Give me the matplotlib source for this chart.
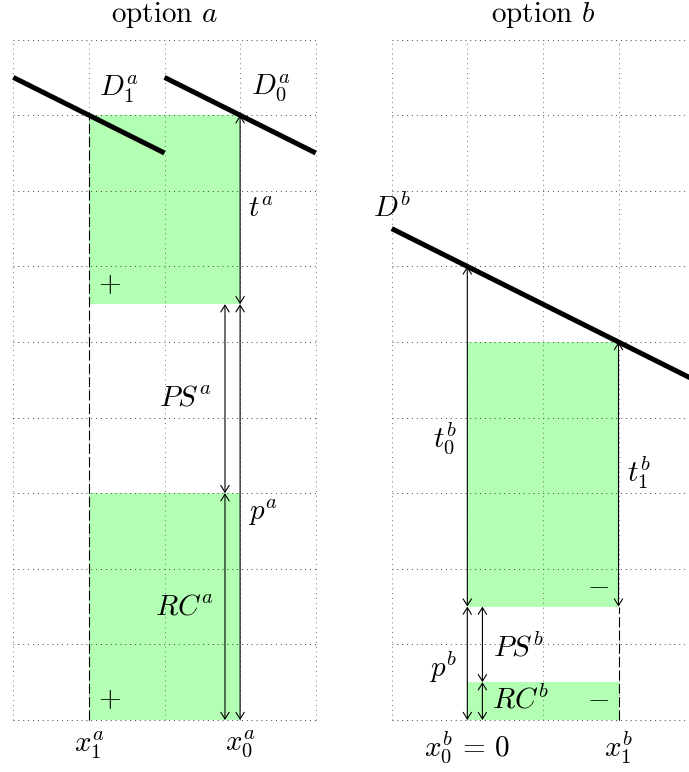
import matplotlib
matplotlib.use("Agg")
import matplotlib.pyplot as plt
from matplotlib.patches import Rectangle

plt.rcParams['mathtext.fontset'] = 'cm'
plt.rcParams['font.family'] = 'serif'
plt.rcParams['font.serif'] = ['cmr10']
plt.rcParams['axes.unicode_minus'] = False

W, H = 689, 772
S = 75.6          # pixels per grid unit
Y0_PX = 720       # pixel row of y = 0

# demand curves (x list, y list)
demand_a = [([0, 2], [8.5, 7.5]), ([2, 4], [8.5, 7.5])]
demand_b = [([0, 4], [6.5, 4.5])]

# green areas (x0, y0, x1, y1)
rects_a = [(1, 5.5, 3, 8), (1, 0, 3, 3)]
rects_b = [(1, 1.5, 3, 5), (1, 0, 3, 0.5)]

# double arrows (x, y_start, y_end)
arrows_a = [(3, 8, 5.5), (3, 5.5, 0), (2.8, 5.5, 3), (2.8, 3, 0)]
arrows_b = [(1, 6, 1.5), (1, 1.5, 0), (3, 5, 1.5), (1.2, 1.5, 0.5), (1.2, 0.5, 0)]

# dashed guides (x, y_start, y_end)
dashed_a = [(1, 0, 8)]
dashed_b = [(3, 0, 1.5)]

labels_a = [
    ('option $a$', 2, 9.33),
    ('$D_1^a$', 1.4, 8.35),
    ('$D_0^a$', 3.4, 8.35),
    ('$t^a$', 3.28, 6.75),
    ('$PS^a$', 2.28, 4.26),
    ('$p^a$', 3.3, 2.74),
    ('$RC^a$', 2.26, 1.49),
    ('$+$', 1.27, 5.76),
    ('$+$', 1.27, 0.26),
    ('$x_1^a$', 1, -0.33),
    ('$x_0^a$', 3, -0.33),
]
labels_b = [
    ('option $b$', 2, 9.33),
    ('$D^b$', 0, 6.77),
    ('$t_0^b$', 0.7, 3.73),
    ('$t_1^b$', 3.27, 3.27),
    ('$PS^b$', 1.67, 0.95),
    ('$p^b$', 0.68, 0.7),
    ('$RC^b$', 1.7, 0.26),
    ('$-$', 2.73, 1.77),
    ('$-$', 2.73, 0.28),
    ('$x_0^b \\,=\\, 0$', 1, -0.36),
    ('$x_1^b$', 3, -0.36),
]

GREEN = '#b3ffb3'


def make_axes(fig, px_left, px_right, origin_px):
    ax = fig.add_axes([px_left / W, 0, (px_right - px_left) / W, 1])
    ax.set_xlim((px_left - origin_px) / S, (px_right - origin_px) / S)
    ax.set_ylim((Y0_PX - H) / S, Y0_PX / S)
    ax.axis('off')
    return ax


def draw_panel(ax, demand, rects, arrows, dashed, labels):
    for x0, y0, x1, y1 in rects:
        ax.add_patch(Rectangle((x0, y0), x1 - x0, y1 - y0, facecolor=GREEN,
                               edgecolor='none', zorder=1))
    for i in range(5):
        ax.plot([i, i], [0, 9], color='0.45', lw=0.7, ls=(0, (1, 4)), zorder=2)
    for j in range(10):
        ax.plot([0, 4], [j, j], color='0.25', lw=0.7, ls=(0, (1, 4)), zorder=2)
    for x, ys, ye in dashed:
        ax.plot([x, x], [ys, ye], color='black', lw=0.8, ls=(0, (9, 3)), zorder=3)
    for x, ys, ye in arrows:
        ax.annotate('', xy=(x, ye), xytext=(x, ys),
                    arrowprops=dict(arrowstyle='<->,head_length=0.4,head_width=0.25',
                                    lw=0.8, color='black', shrinkA=0, shrinkB=0,
                                    mutation_scale=12), zorder=3)
    for xs, ys in demand:
        ax.plot(xs, ys, color='black', lw=3.6, solid_capstyle='butt', zorder=4)
    for txt, x, y in labels:
        ax.text(x, y, txt, ha='center', va='center', fontsize=21, zorder=5)


fig = plt.figure(figsize=(W / 100, H / 100), dpi=100)
ax_a = make_axes(fig, 0, 345, 13.3)
ax_b = make_axes(fig, 345, W, 391.7)
draw_panel(ax_a, demand_a, rects_a, arrows_a, dashed_a, labels_a)
draw_panel(ax_b, demand_b, rects_b, arrows_b, dashed_b, labels_b)

fig.savefig('out.png', dpi=100)
